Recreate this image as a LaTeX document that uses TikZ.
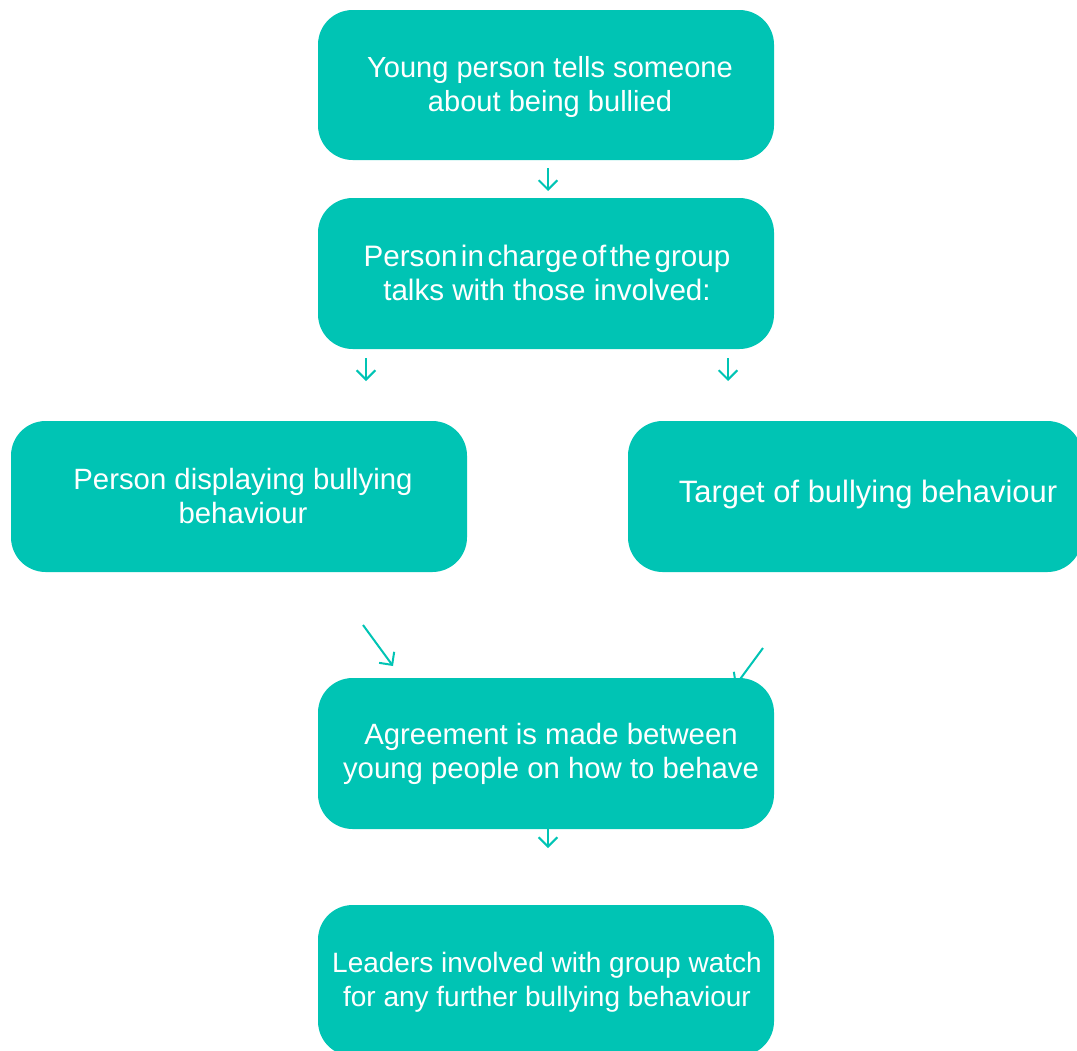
\documentclass[tikz,border=0pt]{standalone}
\usepackage{fontspec}
\setmainfont{Liberation Sans}
\usetikzlibrary{arrows.meta}
\definecolor{teal1}{HTML}{00C4B4}
\begin{document}
\begin{tikzpicture}[x=0.75pt,y=-0.75pt,
  box/.style={fill=teal1,draw=none,rounded corners=26pt},
  lbl/.style={text=white,align=center,inner sep=0pt},
  fs/.style={font=\fontsize{#1}{25.5}\selectfont},
  conn/.style={draw=teal1,line width=1.5pt,-{Straight Barb[length=7pt,width=14pt,line width=1.5pt]}}]
\useasboundingbox (0,0) rectangle (1077,1050);
\begin{scope}
\clip (0,0) rectangle (1077,1050);
% connectors (drawn under boxes)
\coordinate (a1s) at (548,168); \coordinate (a1e) at (548,191);
\coordinate (a2s) at (366,358); \coordinate (a2e) at (366,381);
\coordinate (a3s) at (728,358); \coordinate (a3e) at (728,381);
\coordinate (a4s) at (363,625); \coordinate (a4e) at (393,666);
\coordinate (a5s) at (763,648); \coordinate (a5e) at (735,686);
\coordinate (a6s) at (548,828); \coordinate (a6e) at (548,848);
\draw[conn] (a1s) -- (a1e);
\draw[conn] (a2s) -- (a2e);
\draw[conn] (a3s) -- (a3e);
\draw[conn] (a4s) -- (a4e);
\draw[conn] (a5s) -- (a5e);
\draw[conn] (a6s) -- (a6e);
% boxes
\path[box] (318,10) rectangle (774,160);
\path[box] (318,198) rectangle (774,349);
\path[box] (11,421) rectangle (467,572);
\path[box] (628,421) rectangle (1082,572);
\path[box] (318,678) rectangle (774,829);
\path[box] (318,905) rectangle (774,1056);
\end{scope}
% texts
\node[lbl,fs=21.8] (t1) at (550,87) {Young person tells someone\\about being bullied};
\node[lbl,fs=22.2] (t2) at (547,273) {{\spaceskip=0.12em Person in charge of the group}\\talks with those involved:};
\node[lbl,fs=22] (t3) at (243,496) {Person displaying bullying\\behaviour};
\node[lbl,fs=23.2] (t4) at (868,494) {Target of bullying behaviour};
\node[lbl,fs=22] (t5) at (551,754) {Agreement is made between\\young people on how to behave};
\node[lbl,fs=21] (t6) at (547,982) {Leaders involved with group watch\\for any further bullying behaviour};
\end{tikzpicture}
\end{document}
